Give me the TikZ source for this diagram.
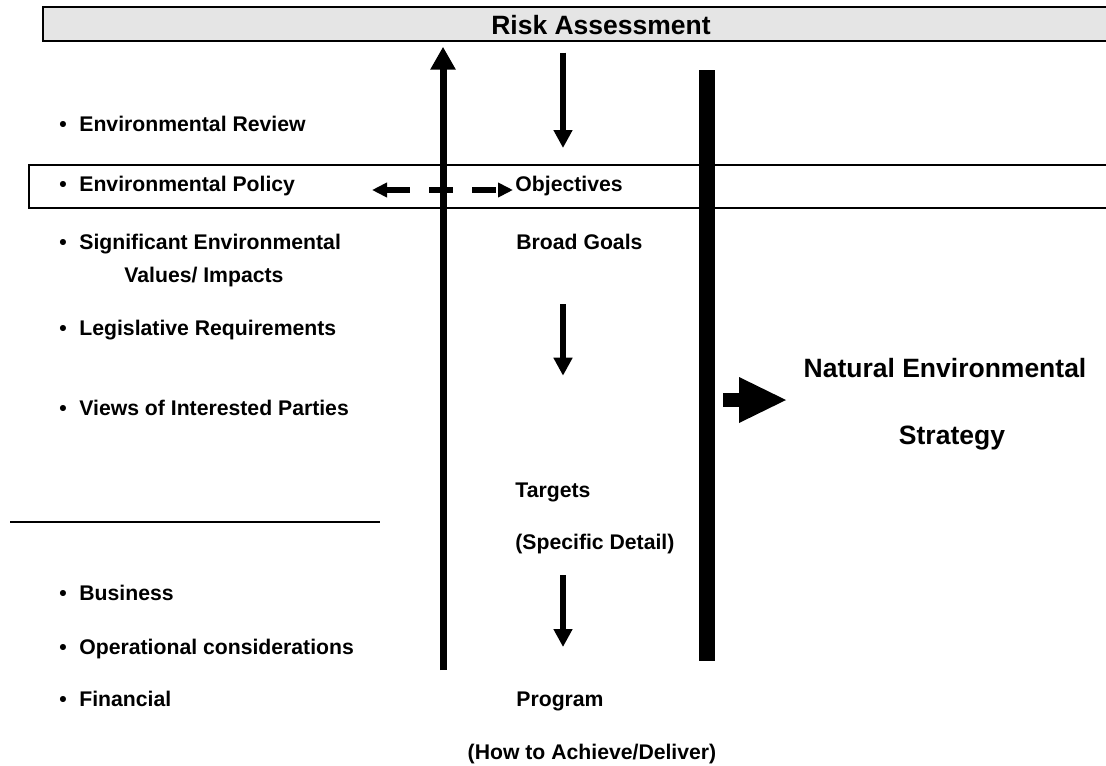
\documentclass[tikz,border=0pt]{standalone}
\usepackage{fontspec}
\setmainfont{Liberation Sans}
\usetikzlibrary{arrows.meta}
\definecolor{ink}{RGB}{0,0,0}
\definecolor{barfill}{RGB}{229,229,229}

\begin{document}
\begin{tikzpicture}[
    x=0.5pt,
    y=-0.5pt,
    font=\fontsize{10.6}{12.7}\selectfont\bfseries,
    line join=miter,
    itemtext/.style={
      text=ink,
      inner sep=0pt,
      anchor=base west
    },
    centretext/.style={
      text=ink,
      inner sep=0pt,
      anchor=base
    },
    bigtext/.style={
      text=ink,
      inner sep=0pt,
      anchor=base,
      font=\fontsize{13.25}{16}\selectfont\bfseries
    },
    bulletmark/.style={
      text=ink,
      inner sep=0pt,
      anchor=base west
    },
    frame/.style={
      draw=ink,
      line width=0.75pt
    },
    uparrow/.style={
      draw=ink,
      line width=3.5pt,
      -{Triangle[length=11.5pt,width=12pt]}
    },
    downarrow/.style={
      draw=ink,
      line width=2.9pt,
      -{Triangle[length=9pt,width=9pt]}
    },
    dasharrow/.style={
      draw=ink,
      line width=3pt,
      dash pattern=on 12pt off 9.5pt,
      {Triangle[length=7.5pt,width=7pt]}-{Triangle[length=7.5pt,width=7pt]}
    }
]
\useasboundingbox (0,0) rectangle (1106,765);

% Heading bar across the top.
\draw[frame,fill=barfill,line width=1pt] (43,7.5) rectangle (1112,41.5);
\node[bigtext] (risk) at (601,35) {Risk Assessment};

% Frame round the policy row and the rule above the business items.
\draw[frame] (29,165) rectangle (1112,208);
\draw[draw=ink,line width=1pt] (10,522) -- (380,522);

% Left column of bullet items.
\foreach \y/\txt/\nm in {
  131.7/{Environmental Review}/review,
  191/{Environmental Policy}/policy,
  249.5/{Significant Environmental}/signif,
  335/{Legislative Requirements}/legis,
  415/{Views of Interested Parties}/views,
  600.7/{Business}/business,
  654/{Operational considerations}/operat,
  706/{Financial}/financial
} {
  \node[bulletmark] at (59,\y) {\textbullet};
  \node[itemtext] (\nm) at (79,\y) {\txt};
}
\node[itemtext] (values) at (124,282) {Values/ Impacts};

% Middle column.
\node[itemtext] (objectives) at (515,191.5) {Objectives};
\node[itemtext] (goals) at (516,249.5) {Broad Goals};
\node[itemtext] (targets) at (515,497.5) {Targets};
\node[itemtext] (detail) at (515,549) {(Specific Detail)};
\node[itemtext] (program) at (516,706) {Program};
\node[centretext] (howto) at (592,759.5) {(How to Achieve/Deliver)};

% Right column.
\node[bigtext] (natural) at (945,377) {Natural Environmental};
\node[bigtext] (strategy) at (952,444) {Strategy};

% Arrow ends.
\coordinate (upfoot) at (443,670);
\coordinate (uptip) at (443,46.7);
\coordinate (downA) at (563,52.7);
\coordinate (downAtip) at (563,148);
\coordinate (downB) at (563,304);
\coordinate (downBtip) at (563,375.7);
\coordinate (downC) at (563,575);
\coordinate (downCtip) at (563,647);
\coordinate (dashL) at (372,190);
\coordinate (dashR) at (513,190);

\draw[uparrow] (upfoot) -- (uptip);
\draw[downarrow] (downA) -- (downAtip);
\draw[downarrow] (downB) -- (downBtip);
\draw[downarrow] (downC) -- (downCtip);
\draw[dasharrow] (dashL) -- (dashR);

% Thick bar and block arrow towards the strategy.
\fill[ink] (699,70) rectangle (715,661);
\fill[ink] (723,393) rectangle (740,407);
\fill[ink] (739,377) -- (786,400) -- (739,423) -- cycle;

\end{tikzpicture}
\end{document}
